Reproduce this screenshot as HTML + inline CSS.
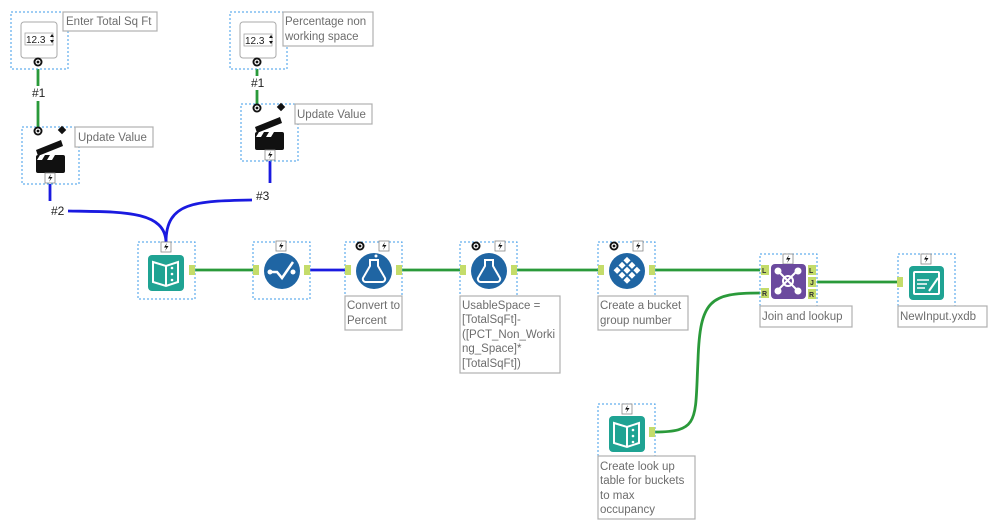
<!DOCTYPE html>
<html><head><meta charset="utf-8"><style>
body{margin:0;background:#fff;width:999px;height:523px;overflow:hidden}
svg{display:block}
text{font-family:"Liberation Sans",sans-serif}
.lbl{font-size:11.5px;fill:#6d6d6d}
.box{fill:#fff;stroke:#3d9be9;stroke-width:1;stroke-dasharray:2,2}
.lb{fill:#fff;stroke:#b0b0b0;stroke-width:1.2}
</style></head><body>
<svg width="999" height="523" viewBox="0 0 999 523">
<defs>
<g id="q"><circle r="4.5" fill="#111"/><circle r="2" fill="none" stroke="#fff" stroke-width="1.2"/></g>
<g id="bolt"><rect x="-5" y="-5" width="10" height="10" fill="#fff" stroke="#888" stroke-width="0.8"/><path d="M1,-4 L-2,0.5 L0.5,0.5 L-1,4 L2.5,-1 L0,-1 Z" fill="#111"/></g>
<g id="anc"><rect x="-3" y="-5" width="6" height="10" fill="#c4dc6a"/></g>
</defs>

<!-- connectors -->
<g fill="none" stroke-width="2.8">
<path d="M38,69 V86 M38,101 V127" stroke="#2a9a3a"/>
<path d="M257,69 V76 M257,90 V104" stroke="#2a9a3a"/>
<path d="M50,184 V201" stroke="#1a1ae0"/>
<path d="M68,211 C120,212 165,210 166,242" stroke="#1a1ae0"/>
<path d="M270,161 V183" stroke="#1a1ae0"/>
<path d="M252,200 C195,201 166,202 166,242" stroke="#1a1ae0"/>
<path d="M195,270 H253" stroke="#2a9a3a"/>
<path d="M310,270 H345" stroke="#1a1ae0"/>
<path d="M402,270 H460 M517,270 H598 M655,270 H760 M817,282 H898" stroke="#2a9a3a"/>
<path d="M655,432 C700,432 695,420 698,360 C700,300 710,293 760,293" stroke="#2a9a3a"/>
</g>
<text x="32" y="97" font-size="12" fill="#222">#1</text>
<text x="251" y="87" font-size="12" fill="#222">#1</text>
<text x="51" y="215" font-size="12" fill="#222">#2</text>
<text x="256" y="200" font-size="12" fill="#222">#3</text>

<!-- numeric 1 -->
<rect class="box" x="11" y="12" width="57" height="57"/>
<rect x="21" y="22" width="36" height="36" rx="3" fill="#fff" stroke="#aaa"/>
<rect x="25" y="33" width="28" height="12" fill="#fff" stroke="#999" stroke-width="0.7"/>
<text x="26" y="43" font-size="10" fill="#222">12.3</text>
<path d="M50,37 l2,-3 l2,3z M50,40 l2,3 l2,-3z" fill="#111"/>
<use href="#q" x="38" y="62"/>
<rect class="lb" x="63" y="12" width="94" height="19"/>
<text class="lbl" x="66" y="25">Enter Total Sq Ft</text>

<!-- numeric 2 -->
<rect class="box" x="230" y="12" width="57" height="57"/>
<rect x="240" y="22" width="36" height="36" rx="3" fill="#fff" stroke="#aaa"/>
<rect x="244" y="34" width="28" height="12" fill="#fff" stroke="#999" stroke-width="0.7"/>
<text x="245" y="44" font-size="10" fill="#222">12.3</text>
<path d="M269,38 l2,-3 l2,3z M269,41 l2,3 l2,-3z" fill="#111"/>
<use href="#q" x="257" y="62"/>
<rect class="lb" x="283" y="12" width="90" height="34"/>
<text class="lbl" x="285" y="25">Percentage non</text>
<text class="lbl" x="285" y="40">working space</text>

<!-- update value 1 -->
<rect class="box" x="22" y="127" width="57" height="57"/>
<use href="#q" x="38" y="131"/>
<rect x="59" y="127" width="6" height="6" transform="rotate(45 62 130)" fill="#111"/>
<path d="M36,150 L61,140 L63,146 L38,156Z" fill="#111"/>
<rect x="36" y="155" width="29" height="18" rx="2" fill="#111"/>
<path d="M40,155 h5 l-3,5 h-5z M50,155 h5 l-3,5 h-5z" fill="#fff"/>
<use href="#bolt" x="50" y="178"/>
<rect class="lb" x="75" y="127" width="78" height="20"/>
<text class="lbl" x="78" y="141">Update Value</text>

<!-- update value 2 -->
<rect class="box" x="241" y="104" width="57" height="57"/>
<use href="#q" x="257" y="108"/>
<rect x="278" y="104" width="6" height="6" transform="rotate(45 281 107)" fill="#111"/>
<path d="M255,127 L280,117 L282,123 L257,133Z" fill="#111"/>
<rect x="255" y="132" width="29" height="18" rx="2" fill="#111"/>
<path d="M259,132 h5 l-3,5 h-5z M269,132 h5 l-3,5 h-5z" fill="#fff"/>
<use href="#bolt" x="270" y="155"/>
<rect class="lb" x="295" y="104" width="77" height="20"/>
<text class="lbl" x="297" y="118">Update Value</text>

<!-- input book -->
<rect class="box" x="138" y="242" width="57" height="57"/>
<use href="#bolt" x="166" y="247"/>
<rect x="148" y="255" width="36" height="36" rx="4" fill="#1fa393"/>
<path d="M153,262 L166,266 L178,262 V282 L166,286 L153,282Z" fill="none" stroke="#fff" stroke-width="2"/>
<path d="M166,266 V286" stroke="#fff" stroke-width="2"/>
<circle cx="172" cy="268" r="1.3" fill="#fff"/><circle cx="172" cy="274" r="1.3" fill="#fff"/><circle cx="172" cy="280" r="1.3" fill="#fff"/>
<use href="#anc" x="192" y="270"/>

<!-- check -->
<rect class="box" x="253" y="242" width="57" height="57"/>
<use href="#bolt" x="281" y="246"/>
<circle cx="282" cy="271" r="18" fill="#1f65a3"/>
<path d="M270,272 L277,272 L282,278 L293,262" fill="none" stroke="#fff" stroke-width="2.5"/>
<circle cx="270" cy="272" r="2.5" fill="#fff"/><circle cx="293" cy="272" r="2.5" fill="#fff"/>
<use href="#anc" x="256" y="270"/><use href="#anc" x="307" y="270"/>

<!-- formula 1 -->
<rect class="box" x="345" y="242" width="57" height="57"/>
<use href="#q" x="360" y="246"/><use href="#bolt" x="384" y="246"/>
<circle cx="374" cy="271" r="18" fill="#1f65a3"/>
<path d="M370,260 h8 v6 l7,12 a3,3 0 0 1 -3,4 h-16 a3,3 0 0 1 -3,-4 l7,-12z" fill="none" stroke="#fff" stroke-width="2"/>
<circle cx="376" cy="256" r="1.5" fill="#fff"/>
<use href="#anc" x="348" y="270"/><use href="#anc" x="399" y="270"/>
<rect class="lb" x="345" y="296" width="57" height="34"/>
<text class="lbl" x="347" y="309">Convert to</text>
<text class="lbl" x="347" y="324">Percent</text>

<!-- formula 2 -->
<rect class="box" x="460" y="242" width="57" height="57"/>
<use href="#q" x="476" y="246"/><use href="#bolt" x="500" y="246"/>
<circle cx="489" cy="271" r="18" fill="#1f65a3"/>
<path d="M485,260 h8 v6 l7,12 a3,3 0 0 1 -3,4 h-16 a3,3 0 0 1 -3,-4 l7,-12z" fill="none" stroke="#fff" stroke-width="2"/>
<use href="#anc" x="463" y="270"/><use href="#anc" x="514" y="270"/>
<rect class="lb" x="460" y="296" width="100" height="77"/>
<text class="lbl" x="462" y="309">UsableSpace =</text>
<text class="lbl" x="462" y="323">[TotalSqFt]-</text>
<text class="lbl" x="462" y="338">([PCT_Non_Worki</text>
<text class="lbl" x="462" y="352">ng_Space]*</text>
<text class="lbl" x="462" y="367">[TotalSqFt])</text>

<!-- tile -->
<rect class="box" x="598" y="242" width="57" height="57"/>
<use href="#q" x="614" y="246"/><use href="#bolt" x="638" y="246"/>
<circle cx="627" cy="271" r="18" fill="#1f65a3"/>
<g fill="#fff" transform="rotate(45 627 271)">
<rect x="617" y="261" width="5" height="5"/><rect x="624" y="261" width="5" height="5"/><rect x="631" y="261" width="5" height="5"/>
<rect x="617" y="268" width="5" height="5"/><rect x="624" y="268" width="5" height="5"/><rect x="631" y="268" width="5" height="5"/>
<rect x="617" y="275" width="5" height="5"/><rect x="624" y="275" width="5" height="5"/><rect x="631" y="275" width="5" height="5"/>
</g>
<use href="#anc" x="601" y="270"/><use href="#anc" x="652" y="270"/>
<rect class="lb" x="598" y="296" width="90" height="34"/>
<text class="lbl" x="600" y="309">Create a bucket</text>
<text class="lbl" x="600" y="324">group number</text>

<!-- join -->
<rect class="box" x="760" y="254" width="57" height="57"/>
<use href="#bolt" x="788" y="259"/>
<rect x="771" y="264" width="35" height="35" rx="4" fill="#6b4a9e"/>
<g stroke="#fff" stroke-width="2" fill="none"><circle cx="788" cy="281" r="5"/><path d="M778,271 L797,290 M797,271 L778,290"/></g>
<g fill="#fff"><circle cx="778" cy="271" r="3.5"/><circle cx="798" cy="271" r="3.5"/><circle cx="778" cy="291" r="3.5"/><circle cx="798" cy="291" r="3.5"/></g>
<g font-size="7" font-weight="bold" fill="#333">
<rect x="761" y="265" width="8" height="10" fill="#c4dc6a"/><text x="762" y="273">L</text>
<rect x="761" y="288" width="8" height="10" fill="#c4dc6a"/><text x="762" y="296">R</text>
<rect x="808" y="265" width="8" height="10" fill="#c4dc6a"/><text x="809" y="273">L</text>
<rect x="808" y="277" width="8" height="10" fill="#c4dc6a"/><text x="810" y="285">J</text>
<rect x="808" y="289" width="8" height="10" fill="#c4dc6a"/><text x="809" y="297">R</text>
</g>
<rect class="lb" x="760" y="306" width="92" height="21"/>
<text class="lbl" x="762" y="320">Join and lookup</text>

<!-- output -->
<rect class="box" x="898" y="254" width="57" height="57"/>
<use href="#bolt" x="926" y="259"/>
<rect x="909" y="266" width="35" height="34" rx="4" fill="#1fa393"/>
<rect x="914" y="272" width="25" height="22" rx="1" fill="none" stroke="#fff" stroke-width="2"/>
<path d="M917,280 h12 M917,284 h10 M917,288 h8" stroke="#fff" stroke-width="1.6"/>
<path d="M929,291 L938,278" stroke="#fff" stroke-width="2"/>
<use href="#anc" x="900" y="282"/>
<rect class="lb" x="898" y="306" width="89" height="21"/>
<text class="lbl" x="900" y="320">NewInput.yxdb</text>

<!-- text input 2 -->
<rect class="box" x="598" y="404" width="57" height="57"/>
<use href="#bolt" x="627" y="409"/>
<rect x="609" y="416" width="36" height="36" rx="4" fill="#1fa393"/>
<path d="M614,423 L627,427 L639,423 V443 L627,447 L614,443Z" fill="none" stroke="#fff" stroke-width="2"/>
<path d="M627,427 V447" stroke="#fff" stroke-width="2"/>
<circle cx="633" cy="430" r="1.3" fill="#fff"/><circle cx="633" cy="436" r="1.3" fill="#fff"/><circle cx="633" cy="442" r="1.3" fill="#fff"/>
<use href="#anc" x="652" y="432"/>
<rect class="lb" x="598" y="456" width="97" height="63"/>
<text class="lbl" x="600" y="470">Create look up</text>
<text class="lbl" x="600" y="484">table for buckets</text>
<text class="lbl" x="600" y="499">to max</text>
<text class="lbl" x="600" y="513">occupancy</text>
</svg>
</body></html>
